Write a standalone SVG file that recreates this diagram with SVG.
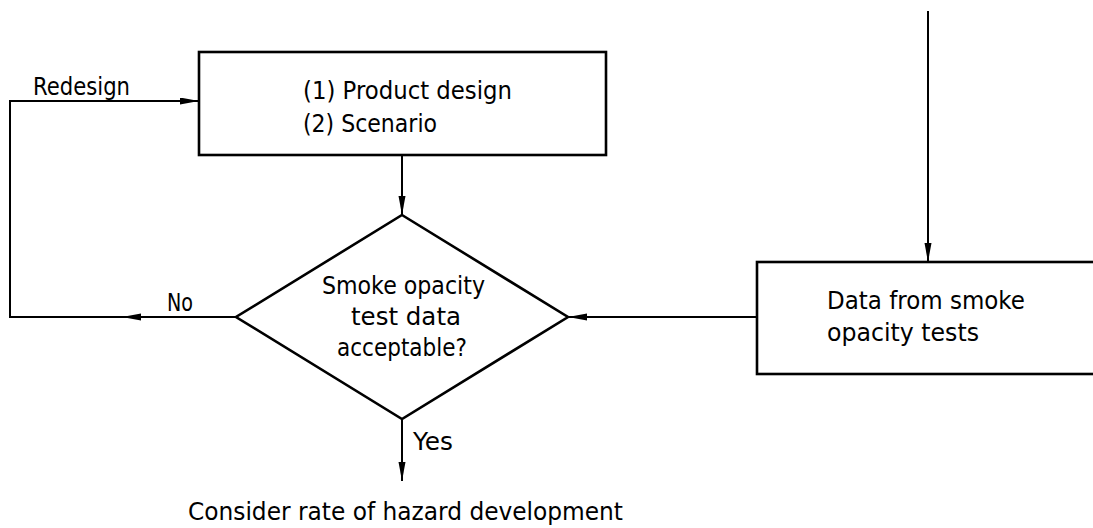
<svg xmlns="http://www.w3.org/2000/svg" width="1093" height="528" viewBox="0 0 1093 528">
  <defs>
    <marker id="arrow" markerUnits="userSpaceOnUse" markerWidth="20" markerHeight="8" refX="19" refY="3.5" orient="auto">
      <path d="M0,0 L19,3.5 L0,7 Z" fill="#000"/>
    </marker>
    <style>
      .shape { fill: #fff; stroke: #000; stroke-width: 2.6; }
      .link { fill: none; stroke: #000; stroke-width: 2; }
      .label { font-family: "DejaVu Sans", "Liberation Sans", sans-serif; font-size: 24px; fill: #000; }
    </style>
  </defs>
  <rect width="1093" height="528" fill="#fff"/>

  <!-- connectors -->
  <g id="connectors">
    <path class="link" d="M236,317 H122" marker-end="url(#arrow)"/>
    <path class="link" d="M122,317 H10 V101 H199" marker-end="url(#arrow)"/>
    <path class="link" d="M402,155 V215" marker-end="url(#arrow)"/>
    <path class="link" d="M402,419 V481" marker-end="url(#arrow)"/>
    <path class="link" d="M757,317 H568" marker-end="url(#arrow)"/>
    <path class="link" d="M928,11 V262" marker-end="url(#arrow)"/>
    <text class="label" x="33" y="95" textLength="97" lengthAdjust="spacingAndGlyphs">Redesign</text>
    <text class="label" x="167" y="311" textLength="26" lengthAdjust="spacingAndGlyphs">No</text>
    <text class="label" x="413" y="450" textLength="40" lengthAdjust="spacingAndGlyphs">Yes</text>
  </g>

  <!-- design input -->
  <g id="design">
    <rect class="shape" x="199" y="52" width="407" height="103"/>
    <text class="label" x="303" y="99" textLength="209" lengthAdjust="spacingAndGlyphs">(1) Product design</text>
    <text class="label" x="303" y="132" textLength="134" lengthAdjust="spacingAndGlyphs">(2) Scenario</text>
  </g>

  <!-- decision -->
  <g id="decision">
    <polygon class="shape" points="402,215 568,317 402,419 236,317"/>
    <text class="label" x="322" y="294" textLength="163" lengthAdjust="spacingAndGlyphs">Smoke opacity</text>
    <text class="label" x="351" y="325" textLength="110" lengthAdjust="spacingAndGlyphs">test data</text>
    <text class="label" x="337" y="356" textLength="130" lengthAdjust="spacingAndGlyphs">acceptable?</text>
  </g>

  <!-- test data source -->
  <g id="testdata">
    <rect class="shape" x="757" y="262" width="400" height="112"/>
    <text class="label" x="827" y="309" textLength="198" lengthAdjust="spacingAndGlyphs">Data from smoke</text>
    <text class="label" x="827" y="341" textLength="152" lengthAdjust="spacingAndGlyphs">opacity tests</text>
  </g>

  <!-- outcome -->
  <g id="outcome">
    <text class="label" x="188" y="520" textLength="435" lengthAdjust="spacingAndGlyphs">Consider rate of hazard development</text>
  </g>
</svg>
